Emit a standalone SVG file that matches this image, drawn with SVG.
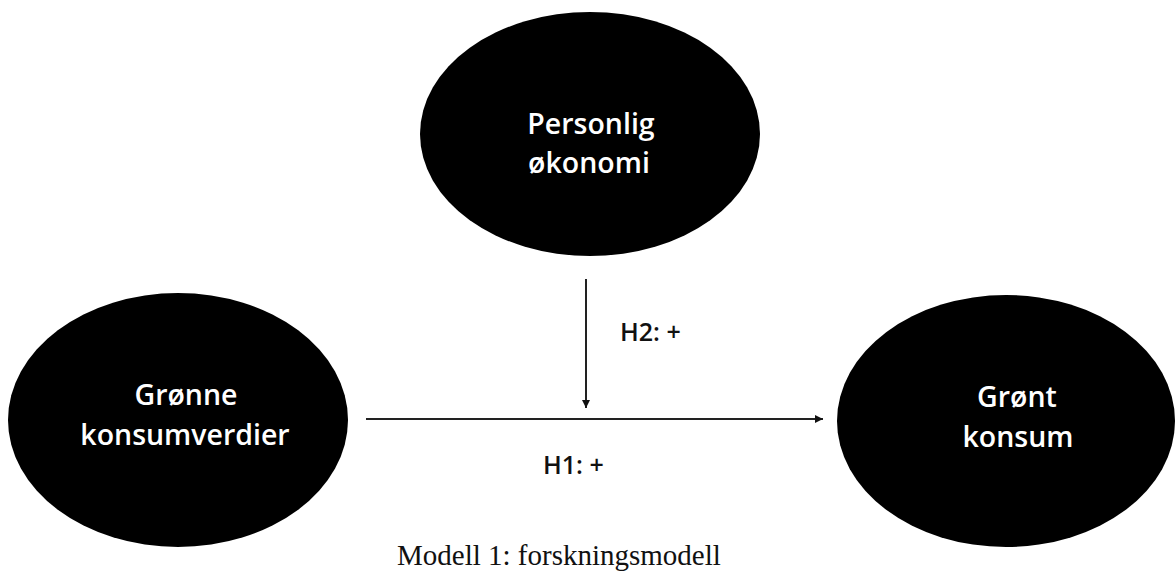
<svg xmlns="http://www.w3.org/2000/svg" width="1176" height="572" viewBox="0 0 1176 572">
<style>
.node{fill:#000;}
.nt{font-family:"Open Sans","Liberation Sans",sans-serif;font-weight:600;font-size:28.5px;fill:#fff;text-anchor:middle;}
.lbl{font-family:"Open Sans","Liberation Sans",sans-serif;font-weight:600;font-size:25px;fill:#111;}
.cap{font-family:"Liberation Serif","Times New Roman",serif;font-size:29px;fill:#111;}
.edge{stroke:#222;stroke-width:2;fill:none;}
</style>
<defs>
<marker id="arrL" viewBox="0 0 10 10" refX="10" refY="5" markerWidth="8" markerHeight="8" orient="auto" markerUnits="userSpaceOnUse">
<path d="M0,0 L10,5 L0,10 z" fill="#111"/>
</marker>
</defs>
<rect width="1176" height="572" fill="#fff"/>
<g id="node-personlig">
<ellipse class="node" cx="590" cy="134" rx="170" ry="122"/>
<text class="nt" x="591" y="134">Personlig</text>
<text class="nt" x="589" y="173">økonomi</text>
</g>
<g id="node-gronne">
<ellipse class="node" cx="178" cy="420" rx="170" ry="127"/>
<text class="nt" x="186" y="405">Grønne</text>
<text class="nt" x="185" y="445">konsumverdier</text>
</g>
<g id="node-gront">
<ellipse class="node" cx="1006" cy="421" rx="169" ry="126"/>
<text class="nt" x="1017" y="407">Grønt</text>
<text class="nt" x="1018" y="447">konsum</text>
</g>
<g id="connectors">
<line class="edge" x1="366" y1="419" x2="823" y2="419" marker-end="url(#arrL)"/>
<line class="edge" x1="586" y1="279" x2="586" y2="408" marker-end="url(#arrL)"/>
<text class="lbl" x="620" y="341">H2: +</text>
<text class="lbl" x="543" y="474">H1: +</text>
</g>
<text class="cap" x="397" y="565">Modell 1: forskningsmodell</text>
</svg>
